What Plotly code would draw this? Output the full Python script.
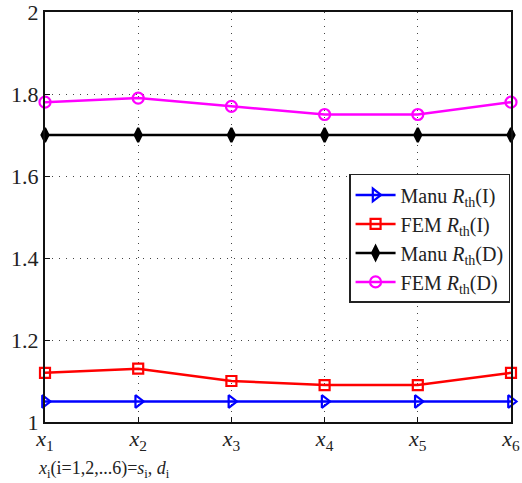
import plotly.graph_objects as go

# Sample positions x1..x6 and thermal resistance results
positions = [1, 2, 3, 4, 5, 6]
tick_labels = ["<i>x</i><sub>1</sub>", "<i>x</i><sub>2</sub>", "<i>x</i><sub>3</sub>",
               "<i>x</i><sub>4</sub>", "<i>x</i><sub>5</sub>", "<i>x</i><sub>6</sub>"]
manu_rth_i = [1.05, 1.05, 1.05, 1.05, 1.05, 1.05]
fem_rth_i = [1.12, 1.13, 1.10, 1.09, 1.09, 1.12]
manu_rth_d = [1.70, 1.70, 1.70, 1.70, 1.70, 1.70]
fem_rth_d = [1.78, 1.79, 1.77, 1.75, 1.75, 1.78]

FONT = "Liberation Serif, Times New Roman, serif"

fig = go.Figure()
series = [
    ("Manu <i>R</i><sub>th</sub>(I)", manu_rth_i, "#0000ff", "triangle-right-open", 11),
    ("FEM <i>R</i><sub>th</sub>(I)", fem_rth_i, "#ff0000", "square-open", 10),
    ("Manu <i>R</i><sub>th</sub>(D)", manu_rth_d, "#000000", "diamond-tall", 10),
    ("FEM <i>R</i><sub>th</sub>(D)", fem_rth_d, "#ff00ff", "circle-open", 11),
]
for name, vals, color, sym, size in series:
    fig.add_trace(go.Scatter(
        x=positions, y=vals, name=name, mode="lines+markers",
        line=dict(color=color, width=2.5),
        marker=dict(symbol=sym, size=size, color=color, line=dict(color=color, width=2.2)),
        cliponaxis=False,
    ))

grid_style = dict(showgrid=True, gridcolor="#444", griddash="1px,6px", gridwidth=1.2)

fig.update_layout(
    width=522, height=483,
    margin=dict(l=45, r=11, t=12, b=61),
    paper_bgcolor="white", plot_bgcolor="white",
    font=dict(family=FONT, size=19, color="#222"),
    showlegend=True,
    legend=dict(
        x=0.998, y=0.605, xanchor="right", yanchor="top",
        bgcolor="white", bordercolor="#222", borderwidth=1.5,
        font=dict(family=FONT, size=20, color="#222"),
        tracegroupgap=0, itemwidth=40,
    ),
    xaxis=dict(
        range=[1, 6], tickvals=positions, ticktext=tick_labels,
        showline=True, linecolor="#111", linewidth=2, mirror=True,
        ticks="inside", ticklen=5, tickcolor="#111", ticklabelstandoff=-4,
        tickfont=dict(family=FONT, size=22, color="#222"),
        zeroline=False, automargin=False, ticklabeloverflow="allow", **grid_style,
    ),
    yaxis=dict(
        range=[1, 2], tickvals=[1, 1.2, 1.4, 1.6, 1.8, 2],
        ticktext=["1", "1.2", "1.4", "1.6", "1.8", "2"],
        showline=True, linecolor="#111", linewidth=2, mirror=True,
        ticks="inside", ticklen=5, tickcolor="#111",
        tickfont=dict(family=FONT, size=22, color="#222"),
        zeroline=False, automargin=False, ticklabeloverflow="allow", **grid_style,
    ),
    annotations=[dict(
        text="<i>x</i><sub>i</sub>(i=1,2,...6)=<i>s</i><sub>i</sub>, <i>d</i><sub>i</sub>",
        xref="paper", yref="paper", x=-0.02, y=-0.083, xanchor="left", yanchor="top",
        showarrow=False, font=dict(family=FONT, size=18, color="#222"),
    )],
)

fig.write_html("out.html")
